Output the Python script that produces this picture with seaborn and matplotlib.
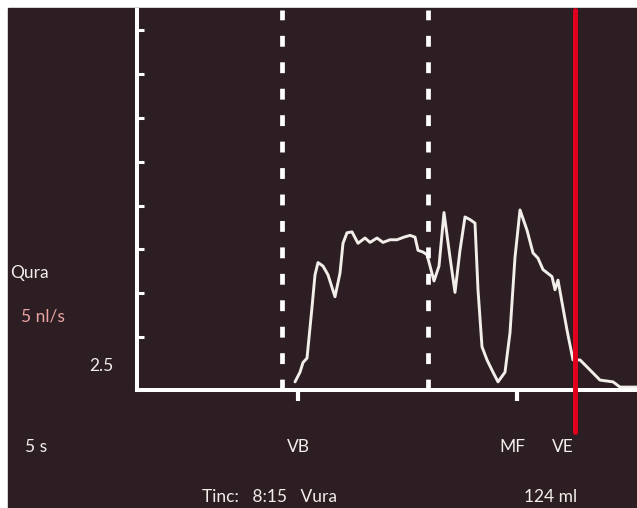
import matplotlib
matplotlib.use("Agg")
import matplotlib.pyplot as plt
from matplotlib.patches import Rectangle
import seaborn as sns

# flow curve (time in s, flow in ml/s)
time_s = [15.8, 16.3, 16.6, 17.0, 17.5, 17.8, 18.1, 18.6, 19.1, 19.8, 20.3, 20.6, 21.0, 21.5,
          22.1, 22.8, 23.3, 24.0, 24.6, 25.3, 26.0, 26.7, 27.3, 27.8, 28.1, 28.6, 29.0, 29.7,
          30.2, 30.7, 31.3, 31.8, 32.3, 32.8, 33.3, 33.8, 34.1, 34.5, 35.0, 35.6, 36.1, 36.8,
          37.3, 37.8, 38.3, 39.0, 39.6, 40.1, 40.6, 41.5, 41.8, 42.1, 43.0, 43.6, 44.3, 45.0,
          46.3, 47.6, 48.3, 50.0]
flow = [-0.1, 1.0, 2.1, 2.6, 8.4, 12.1, 13.5, 13.1, 12.1, 9.6, 12.3, 15.7, 16.9, 17.0,
        15.7, 16.3, 15.8, 16.3, 15.8, 16.1, 16.1, 16.4, 16.6, 16.4, 14.9, 14.7, 14.4, 11.4,
        13.1, 19.2, 14.1, 10.1, 14.9, 18.7, 18.4, 18.0, 10.4, 3.9, 2.4, 1.0, -0.1, 1.0,
        5.5, 14.1, 19.5, 17.2, 14.6, 14.0, 12.7, 11.9, 10.4, 11.5, 5.8, 2.4, 2.4, 1.6,
        0.1, -0.1, -0.7, -0.7]

y_ticks = [5, 10, 15, 20, 25, 30, 35, 40]
dashed_t = [14.5, 29.1]
vb_t, mf_t, ve_t = 16.1, 38.0, 43.8

bg = "#2c1e22"
fg = "#f2eeea"

sns.set_style("white")
plt.rcParams["font.family"] = ["Lato", "DejaVu Sans"]

fig = plt.figure(figsize=(6.37, 5.08), dpi=100)
fig.patch.set_facecolor("white")
fig.add_artist(Rectangle((8 / 637, 0), 1, 500 / 508, transform=fig.transFigure,
                         color=bg, zorder=0))

ax = fig.add_axes([137 / 637, 118 / 508, 500 / 637, 380 / 508])
ax.set_facecolor("none")
ax.set_xlim(0, 50)
ax.set_ylim(-1.03, 42.3)

sns.lineplot(x=time_s, y=flow, ax=ax, color=fg, linewidth=2.1, sort=False)

for t in dashed_t:
    ax.axvline(t, color="white", linewidth=3.4, dashes=(2.3, 3.3), zorder=3)
ax.axvline(ve_t, ymin=-0.11, ymax=1, color="#e0001e", linewidth=3.6,
           clip_on=False, zorder=4)

for s in ["top", "right"]:
    ax.spines[s].set_visible(False)
for s in ["left", "bottom"]:
    ax.spines[s].set_color("white")
    ax.spines[s].set_linewidth(2.9)

ax.set_yticks(y_ticks)
ax.set_yticklabels([])
ax.tick_params(axis="y", direction="in", length=5, width=2.2, color="white", left=True)
ax.set_xticks([vb_t, mf_t])
ax.set_xticklabels([])
ax.tick_params(axis="x", direction="out", length=8, width=3, color="white", bottom=True)
ax.set_xlabel("")
ax.set_ylabel("")


def put(x, y, s, color=fg, ha="left"):
    fig.text(x / 637, 1 - y / 508, s, color=color, fontsize=12.5, ha=ha, va="center")


put(10, 273, "Qura")
put(21, 317, "5 nl/s", color="#eba3a3")
put(89, 366, "2.5")
put(25, 447, "5 s")
put(298, 447, "VB", ha="center")
put(512, 447, "MF", ha="center")
put(563, 447, "VE", ha="center")
put(202, 497, "Tinc:   8:15   Vura")
put(524, 497, "124 ml")

fig.savefig("out.png", dpi=100)
